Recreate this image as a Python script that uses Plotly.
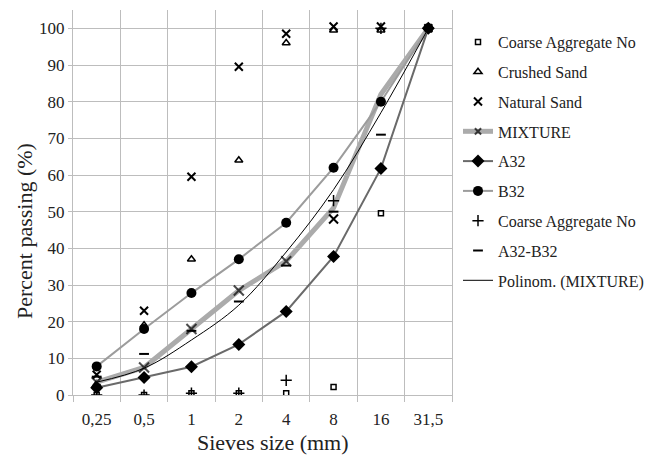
import plotly.graph_objects as go

# ---- data ----
sieves = ["0,25", "0,5", "1", "2", "4", "8", "16", "31,5"]
coarse_aggregate_a = [0, 0, 0.5, 0.5, 0.5, 2.2, 49.6, 100]
crushed_sand = [3, 19, 37, 64, 96, 99.5, 99.5, 100]
natural_sand = [5.5, 23, 59.5, 89.5, 98.5, 100.5, 100.5, 100]
mixture = [3.5, 7.5, 18, 28.5, 36.5, 51, 82, 100]
a32 = [2, 4.8, 7.7, 13.8, 22.8, 37.8, 61.8, 100]
b32 = [7.8, 18, 27.8, 37, 47, 62, 80, 100]
coarse_aggregate_b = [0, 0, 0.5, 0.5, 4, 53, 100, 100]
a32_b32 = [5, 11.2, 17.5, 25.5, 35.3, 50, 71, 100]
poly_mixture = [3.5, 7.3, 15, 24.5, 39, 56, 77, 100]
mixture_extra_x = ["8"]
mixture_extra_y = [48]

FONT = "Times New Roman, Liberation Serif, serif"
GRID = "#bdbdbd"

fig = go.Figure()

def add(name, y, group, **kw):
    fig.add_trace(go.Scatter(x=sieves, y=y, name=name, legendgroup=group, **kw))

add("Coarse Aggregate No", coarse_aggregate_a, "g1", mode="markers",
    marker=dict(symbol="square-open", size=5, color="#000", line=dict(width=1.5, color="#000")))
add("Crushed Sand", crushed_sand, "g2", mode="markers",
    marker=dict(symbol="triangle-up-open", size=7, color="#000", line=dict(width=1.5, color="#000")))
add("Natural Sand", natural_sand, "g3", mode="markers",
    marker=dict(symbol="x-thin-open", size=8, color="#000", line=dict(width=2, color="#000")))
add("MIXTURE", mixture, "g4", mode="lines+markers",
    line=dict(color="#ababab", width=5),
    marker=dict(symbol="x-thin-open", size=[10, 10, 10, 10, 10, 0, 0, 0], color="#000",
                line=dict(width=2, color="#000")))
add("A32", a32, "g5", mode="lines+markers",
    line=dict(color="#6a6a6a", width=2),
    marker=dict(symbol="diamond", size=10, color="#000"))
add("B32", b32, "g6", mode="lines+markers",
    line=dict(color="#9c9c9c", width=2),
    marker=dict(symbol="circle", size=10, color="#000"))
add("Coarse Aggregate No ", coarse_aggregate_b, "g7", mode="markers",
    marker=dict(symbol="cross-thin-open", size=8, color="#000", line=dict(width=1.5, color="#000")))
add("A32-B32", a32_b32, "g8", mode="markers",
    marker=dict(symbol="line-ew-open", size=7, color="#000", line=dict(width=2, color="#000")))
add("Polinom. (MIXTURE)", poly_mixture, "g9", mode="lines",
    line=dict(color="#000", width=1, shape="spline"))
fig.add_trace(go.Scatter(x=mixture_extra_x, y=mixture_extra_y, mode="markers", showlegend=False,
                         legendgroup="g4",
                         marker=dict(symbol="x-thin-open", size=9, color="#000",
                                     line=dict(width=2, color="#000"))))

fig.update_layout(
    width=655, height=459,
    margin=dict(l=73, r=203, t=10, b=64, autoexpand=False),
    paper_bgcolor="white", plot_bgcolor="white",
    font=dict(family=FONT, size=17, color="#222"),
    showlegend=True,
    legend=dict(x=(458 - 73) / 379, y=(395 - 25) / 385, xanchor="left", yanchor="top",
                font=dict(family=FONT, size=16, color="#222"),
                traceorder="grouped", tracegroupgap=6,
                bgcolor="rgba(0,0,0,0)"),
    xaxis=dict(type="category", range=[-0.5, 7.5], tickson="boundaries",
               ticks="outside", ticklen=6, tickcolor=GRID,
               showgrid=True, gridcolor=GRID, gridwidth=1,
               showline=True, linecolor=GRID, linewidth=1,
               automargin=False, ticklabelstandoff=9,
               tickfont=dict(family=FONT, size=17, color="#222")),
    yaxis=dict(range=[0, 105], dtick=10, tick0=0,
               ticks="outside", ticklen=4, tickcolor=GRID,
               showgrid=True, gridcolor=GRID, gridwidth=1,
               showline=True, linecolor=GRID, linewidth=1, mirror=True,
               zeroline=False, automargin=False,
               tickfont=dict(family=FONT, size=17, color="#222")),
    annotations=[
        dict(text="Percent passing (%)", xref="paper", yref="paper",
             x=(24 - 73) / 379, y=(395 - 231) / 385, textangle=-90,
             xanchor="center", yanchor="middle",
             showarrow=False, font=dict(family=FONT, size=22, color="#222")),
        dict(text="Sieves size (mm)", xref="paper", yref="paper",
             x=(273 - 73) / 379, y=(395 - 442) / 385,
             xanchor="center", yanchor="middle",
             showarrow=False, font=dict(family=FONT, size=22, color="#222")),
    ],
)

fig.write_html("out.html", config={"displayModeBar": False},
               post_script="document.body.style.margin='0';")
